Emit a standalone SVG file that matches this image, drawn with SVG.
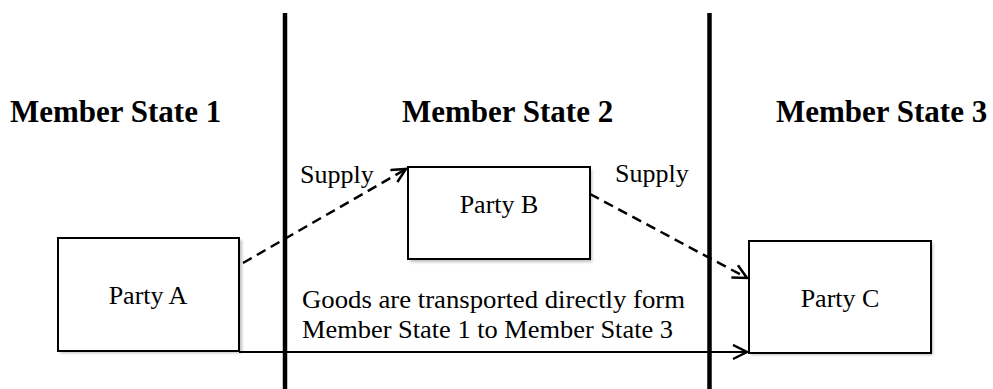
<svg xmlns="http://www.w3.org/2000/svg" width="993" height="389" viewBox="0 0 993 389">
<style>
.box{fill:#fff;stroke:#000;stroke-width:2}
.shadow{fill:#000;opacity:0.25}
.lbl{font-family:"Liberation Serif","Times New Roman",serif;font-size:26px;fill:#000}
.hd{font-family:"Liberation Serif","Times New Roman",serif;font-size:31px;font-weight:bold;fill:#000}
.border{stroke:#000;stroke-width:4.5}
.dash{fill:none;stroke:#000;stroke-width:2.5;stroke-dasharray:10,6}
.solid{fill:none;stroke:#000;stroke-width:2}
</style>
<defs>
<filter id="sh" x="-10%" y="-10%" width="130%" height="130%"><feGaussianBlur stdDeviation="1.5"/></filter>
<marker id="arr" markerUnits="userSpaceOnUse" markerWidth="20" markerHeight="20" refX="15" refY="8" orient="auto" viewBox="0 0 20 20">
<path d="M1,1 L15,8 L1,15" fill="none" stroke="#000" stroke-width="2.5"/>
</marker>
</defs>
<rect width="993" height="389" fill="#fff"/>
<g id="borders">
<line class="border" x1="285" y1="13" x2="285" y2="389"/>
<line class="border" x1="709.5" y1="13" x2="709.5" y2="389"/>
</g>
<g id="headings">
<text class="hd" x="10" y="122">Member State 1</text>
<text class="hd" x="402" y="122">Member State 2</text>
<text class="hd" x="776" y="122">Member State 3</text>
</g>
<g id="partyA">
<rect class="shadow" x="60" y="240" width="182" height="113" filter="url(#sh)"/>
<rect class="box" x="58" y="238" width="181" height="113"/>
<text class="lbl" x="148" y="304" text-anchor="middle">Party A</text>
</g>
<g id="partyB">
<rect class="shadow" x="410" y="170" width="182" height="92" filter="url(#sh)"/>
<rect class="box" x="408" y="167" width="182" height="92"/>
<text class="lbl" x="499" y="213" text-anchor="middle">Party B</text>
</g>
<g id="partyC">
<rect class="shadow" x="751" y="243" width="182" height="112" filter="url(#sh)"/>
<rect class="box" x="749" y="241" width="182" height="112"/>
<text class="lbl" x="840" y="307" text-anchor="middle">Party C</text>
</g>
<g id="connectors">
<line class="dash" x1="243" y1="263" x2="406" y2="169" marker-end="url(#arr)"/>
<line class="dash" x1="590" y1="194" x2="747" y2="278" marker-end="url(#arr)"/>
<line class="solid" x1="239" y1="352" x2="747" y2="352" marker-end="url(#arr)"/>
</g>
<g id="labels">
<text class="lbl" x="300" y="183">Supply</text>
<text class="lbl" x="615" y="182">Supply</text>
<text class="lbl" x="302" y="308" textLength="383" lengthAdjust="spacingAndGlyphs">Goods are transported directly form</text>
<text class="lbl" x="302" y="338" textLength="371" lengthAdjust="spacingAndGlyphs">Member State 1 to Member State 3</text>
</g>
</svg>
